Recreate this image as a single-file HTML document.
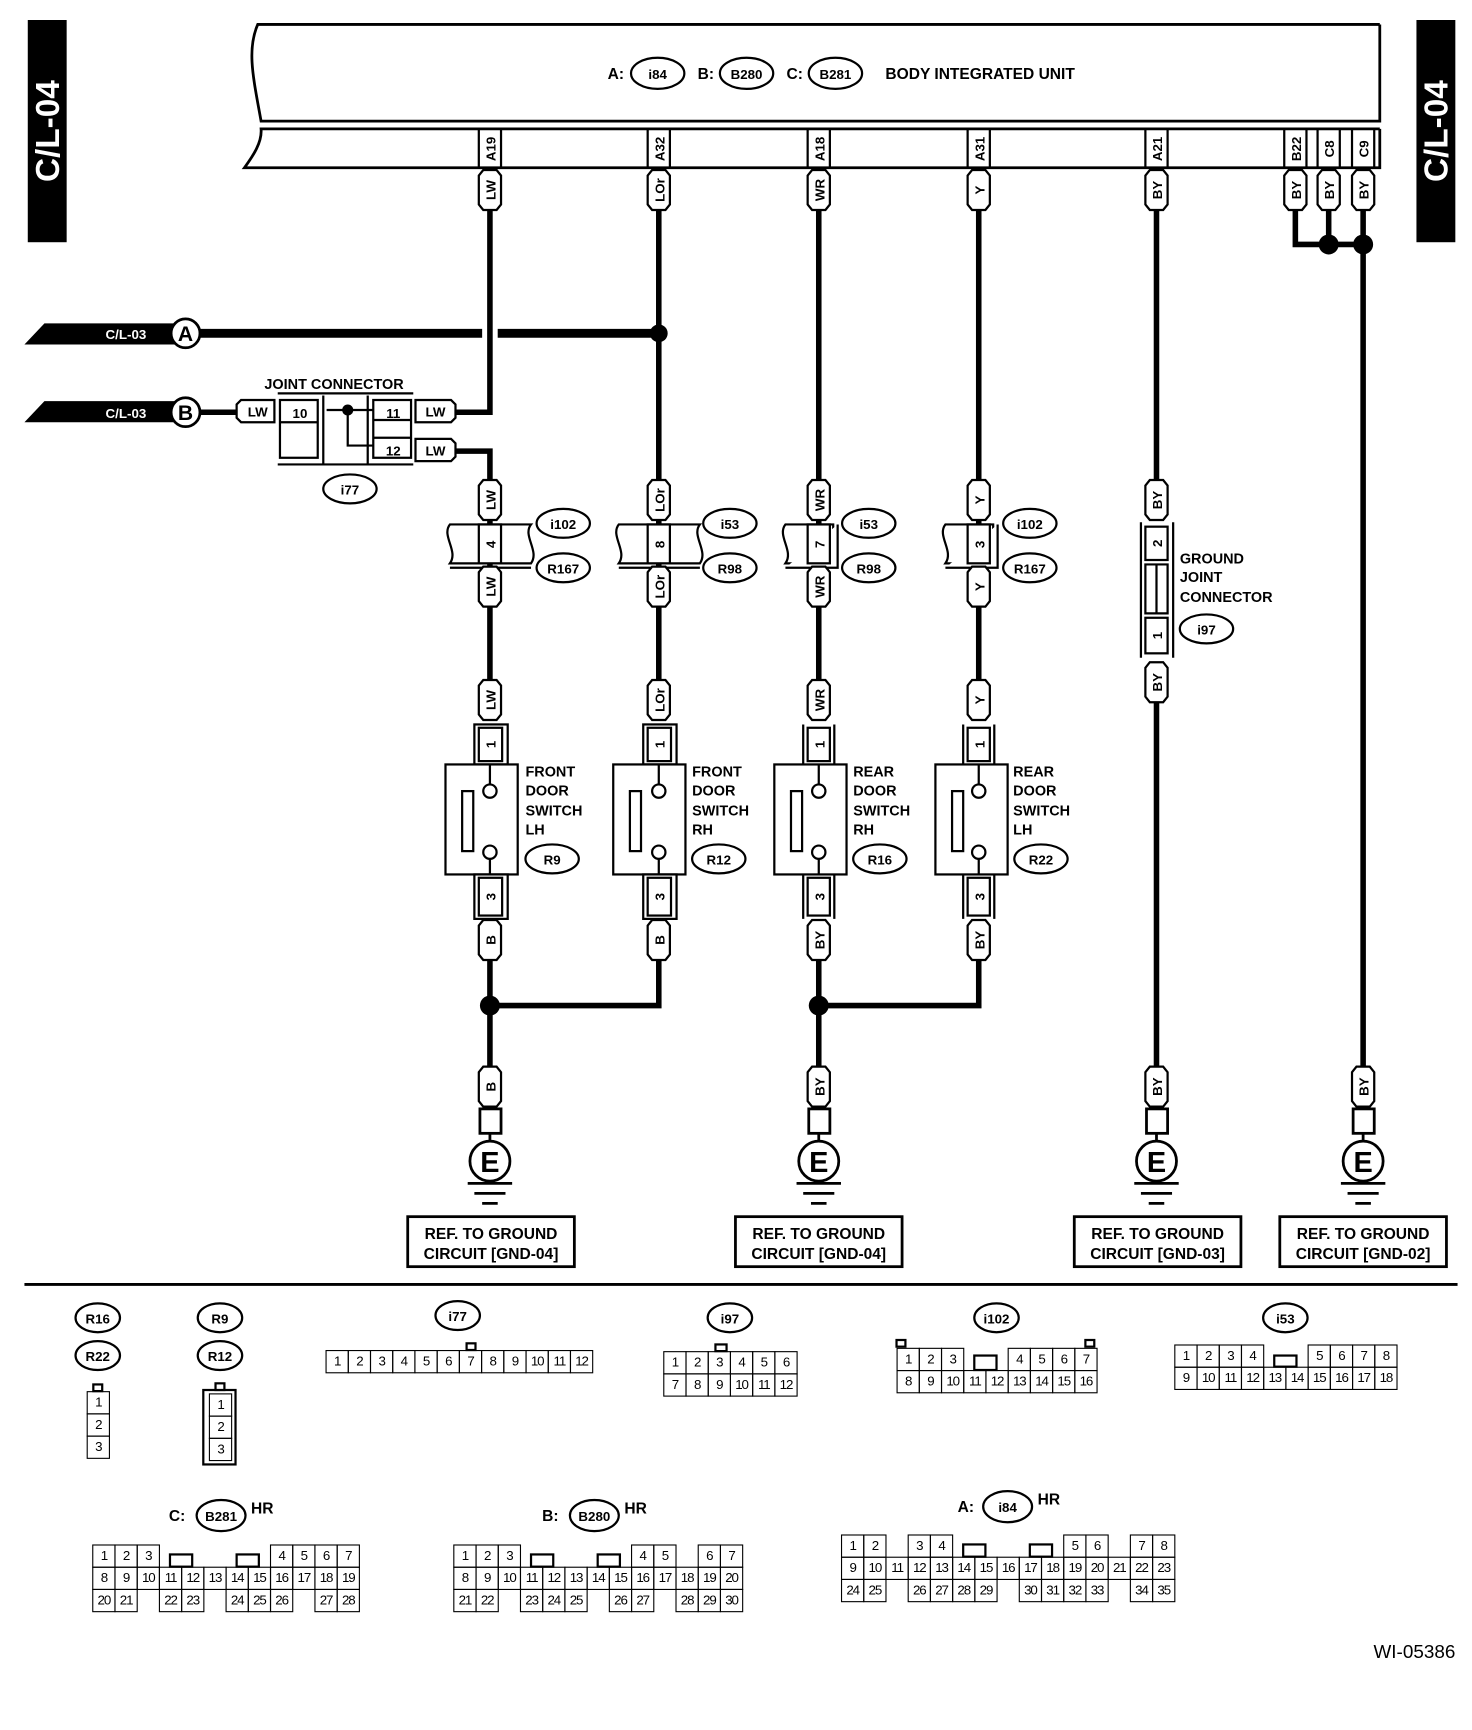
<!DOCTYPE html>
<html><head><meta charset="utf-8"><style>
html,body{margin:0;padding:0;background:#fff;width:1472px;height:1730px;overflow:hidden}
#wrap{position:absolute;left:0;top:0;width:1325px;height:1557px;transform:scale(1.11094,1.11111);transform-origin:0 0}
svg{position:absolute;left:0;top:0}
text{font-family:"Liberation Sans",sans-serif;font-weight:bold;fill:#000}
.t{font-size:12px}
.s{font-size:14px}
.g{position:absolute;font-family:"Liberation Sans Narrow","Liberation Sans",sans-serif;font-size:12px}
.r{display:flex;height:21px}
.r i,.r b{display:block;width:21px;height:21px;box-sizing:border-box;font-style:normal;font-weight:normal;text-align:center;line-height:19px;letter-spacing:-1px;margin-right:-1px}
.r i{border:1.5px solid #000}
.r+.r{margin-top:-1px}
</style></head><body><div id="wrap">
<svg width="1325" height="1557" viewBox="0 0 1325 1557">
<defs>
<path id="tg" d="M-10,5 L-6,0 L6,0 L10,5 L10,31 L6,36 L-6,36 L-10,31Z" fill="#fff" stroke="#000" stroke-width="2"/>
</defs>
<rect x="25" y="18" width="35" height="200" fill="#000"/>
<text transform="translate(53,118) rotate(-90)" text-anchor="middle" style="font-size:30px;fill:#fff">C/L-04</text>
<rect x="1275" y="18" width="35" height="200" fill="#000"/>
<text transform="translate(1303,118) rotate(-90)" text-anchor="middle" style="font-size:30px;fill:#fff">C/L-04</text>
<g fill="none" stroke="#000" stroke-width="2.5">
<path d="M1242,22 H232 C222,45 228,70 235,109 H1242 V22"/>
<path d="M1242,116 H235 C236,128 228,140 220,151 H1242 V116"/>
</g>
<text x="547" y="71" class="s">A:</text>
<ellipse cx="592" cy="66" rx="24" ry="14" fill="#fff" stroke="#000" stroke-width="2"/><text x="592" y="71" class="t" text-anchor="middle">i84</text>
<text x="628" y="71" class="s">B:</text>
<ellipse cx="672" cy="66" rx="24" ry="14" fill="#fff" stroke="#000" stroke-width="2"/><text x="672" y="71" class="t" text-anchor="middle">B280</text>
<text x="708" y="71" class="s">C:</text>
<ellipse cx="752" cy="66" rx="24" ry="14" fill="#fff" stroke="#000" stroke-width="2"/><text x="752" y="71" class="t" text-anchor="middle">B281</text>
<text x="797" y="71" class="s">BODY INTEGRATED UNIT</text>
<g fill="none" stroke="#000" stroke-width="2">
<rect x="431" y="116" width="20" height="35"/><rect x="583" y="116" width="20" height="35"/><rect x="727" y="116" width="20" height="35"/><rect x="871" y="116" width="20" height="35"/><rect x="1031" y="116" width="20" height="35"/><rect x="1156" y="116" width="20" height="35"/><rect x="1186" y="116" width="20" height="35"/><rect x="1217" y="116" width="20" height="35"/>
</g>
<g class="t" text-anchor="middle">
<text transform="translate(446,134) rotate(-90)">A19</text>
<text transform="translate(598,134) rotate(-90)">A32</text>
<text transform="translate(742,134) rotate(-90)">A18</text>
<text transform="translate(886,134) rotate(-90)">A31</text>
<text transform="translate(1046,134) rotate(-90)">A21</text>
<text transform="translate(1171,134) rotate(-90)">B22</text>
<text transform="translate(1201,134) rotate(-90)">C8</text>
<text transform="translate(1232,134) rotate(-90)">C9</text>
</g>
<g fill="none" stroke="#000" stroke-width="5">
<path d="M441,189 V371 H410"/><path d="M410,406 H441 V432"/><path d="M441,468 V510"/><path d="M441,546 V612"/><path d="M441,864 V960"/><path d="M441,905 H593 V864"/>
<path d="M593,189 V432"/><path d="M593,468 V510"/><path d="M593,546 V612"/>
<path d="M737,189 V432"/><path d="M737,468 V510"/><path d="M737,546 V612"/><path d="M737,864 V960"/><path d="M737,905 H881 V864"/>
<path d="M881,189 V432"/><path d="M881,468 V510"/><path d="M881,546 V612"/>
<path d="M1041,189 V432"/><path d="M1041,632 V960"/>
<path d="M1166,189 V220 H1227"/><path d="M1196,189 V220"/><path d="M1227,189 V960"/>
<path d="M180,371 H213"/>
</g>
<g stroke="#000" stroke-width="8"><path d="M180,300 H434"/><path d="M448,300 H593"/></g>
<g fill="#000"><circle cx="593" cy="300" r="8"/><circle cx="441" cy="905" r="9"/><circle cx="737" cy="905" r="9"/><circle cx="1196" cy="220" r="9"/><circle cx="1227" cy="220" r="9"/></g>
<path d="M22,310 L40,291 H160 V310Z" fill="#000"/><text x="95" y="305" class="t" style="fill:#fff">C/L-03</text>
<circle cx="167" cy="300" r="13" fill="#fff" stroke="#000" stroke-width="2.5"/><text x="167" y="307" text-anchor="middle" style="font-size:19px">A</text>
<path d="M22,380 L40,361 H160 V380Z" fill="#000"/><text x="95" y="376" class="t" style="fill:#fff">C/L-03</text>
<circle cx="167" cy="371" r="13" fill="#fff" stroke="#000" stroke-width="2.5"/><text x="167" y="378" text-anchor="middle" style="font-size:19px">B</text>
<text x="238" y="350" style="font-size:13px">JOINT CONNECTOR</text>
<g fill="none" stroke="#000" stroke-width="2">
<path d="M250,354 H372 M250,418 H372 M291,356 V418 M331,356 V418"/>
<rect x="252" y="360" width="34" height="52"/><path d="M252,380 H286"/>
<rect x="336" y="360" width="34" height="52"/><path d="M336,378 H370 M336,394 H370"/>
<path d="M294,369 H336 M313,369 V401 H336"/>
<path d="M213,364 L217,360 H247 V380 H217 L213,376Z" fill="#fff"/>
<path d="M410,364 L406,360 H374 V380 H406 L410,376Z" fill="#fff"/>
<path d="M410,399 L406,395 H374 V415 H406 L410,411Z" fill="#fff"/>
</g>
<circle cx="313" cy="369" r="5" fill="#000"/>
<text x="232" y="375" class="t" text-anchor="middle">LW</text>
<text x="270" y="376" class="t" text-anchor="middle">10</text>
<text x="354" y="376" class="t" text-anchor="middle">11</text>
<text x="354" y="410" class="t" text-anchor="middle">12</text>
<text x="392" y="375" class="t" text-anchor="middle">LW</text>
<text x="392" y="410" class="t" text-anchor="middle">LW</text>
<ellipse cx="315" cy="440" rx="24" ry="13" fill="#fff" stroke="#000" stroke-width="2"/><text x="315" y="445" class="t" text-anchor="middle">i77</text>
<g fill="#fff" stroke="#000" stroke-width="2">
<path d="M405,472 H478 C470,482 486,496 478,507 H405 C413,496 397,482 405,472Z"/><path d="M405,511 H478"/><rect x="431" y="472" width="20" height="35"/>
<path d="M557,472 H630 C622,482 638,496 630,507 H557 C565,496 549,482 557,472Z"/><path d="M557,511 H630"/><rect x="583" y="472" width="20" height="35"/>
<path d="M707,472 H750 V507 H707 C715,496 699,482 707,472Z"/><path d="M707,511 H754 V472"/><rect x="727" y="472" width="20" height="35"/>
<path d="M851,472 H894 V507 H851 C859,496 843,482 851,472Z"/><path d="M851,511 H898 V472"/><rect x="871" y="472" width="20" height="35"/>
</g>
<g class="t" text-anchor="middle">
<text transform="translate(446,490) rotate(-90)">4</text>
<text transform="translate(598,490) rotate(-90)">8</text>
<text transform="translate(742,490) rotate(-90)">7</text>
<text transform="translate(886,490) rotate(-90)">3</text>
</g>
<g fill="#fff" stroke="#000" stroke-width="2">
<ellipse cx="507" cy="471" rx="24" ry="13"/><ellipse cx="507" cy="511" rx="24" ry="13"/>
<ellipse cx="657" cy="471" rx="24" ry="13"/><ellipse cx="657" cy="511" rx="24" ry="13"/>
<ellipse cx="782" cy="471" rx="24" ry="13"/><ellipse cx="782" cy="511" rx="24" ry="13"/>
<ellipse cx="927" cy="471" rx="24" ry="13"/><ellipse cx="927" cy="511" rx="24" ry="13"/>
</g>
<g class="t" text-anchor="middle">
<text x="507" y="476">i102</text><text x="507" y="516">R167</text>
<text x="657" y="476">i53</text><text x="657" y="516">R98</text>
<text x="782" y="476">i53</text><text x="782" y="516">R98</text>
<text x="927" y="476">i102</text><text x="927" y="516">R167</text>
</g>
<g fill="none" stroke="#000" stroke-width="2">
<path d="M1027,470 V592 M1056,470 V592"/>
<rect x="1031" y="474" width="20" height="30" fill="#fff"/>
<path d="M1031,508 H1051 V552 H1031Z M1041,508 V552"/>
<rect x="1031" y="556" width="20" height="32" fill="#fff"/>
</g>
<text transform="translate(1046,489) rotate(-90)" class="t" text-anchor="middle">2</text>
<text transform="translate(1046,572) rotate(-90)" class="t" text-anchor="middle">1</text>
<text x="1062" y="507" style="font-size:13px">GROUND</text>
<text x="1062" y="524" style="font-size:13px">JOINT</text>
<text x="1062" y="542" style="font-size:13px">CONNECTOR</text>
<ellipse cx="1086" cy="566" rx="24" ry="13" fill="#fff" stroke="#000" stroke-width="2"/><text x="1086" y="571" class="t" text-anchor="middle">i97</text>
<g fill="#fff" stroke="#000" stroke-width="2">
<rect x="427" y="652" width="30" height="36"/><rect x="431" y="655" width="21" height="30"/>
<rect x="401" y="688" width="65" height="99"/><rect x="416" y="712" width="10" height="54"/>
<path d="M441,688 V706 M441,773 V787"/><circle cx="441" cy="712" r="6"/><circle cx="441" cy="767" r="6"/>
<rect x="427" y="787" width="30" height="40"/><rect x="431" y="790" width="21" height="34"/>
<rect x="579" y="652" width="30" height="36"/><rect x="583" y="655" width="21" height="30"/>
<rect x="552" y="688" width="65" height="99"/><rect x="567" y="712" width="10" height="54"/>
<path d="M593,688 V706 M593,773 V787"/><circle cx="593" cy="712" r="6"/><circle cx="593" cy="767" r="6"/>
<rect x="579" y="787" width="30" height="40"/><rect x="583" y="790" width="21" height="34"/>
<path d="M723,652 V688 M751,652 V688"/><rect x="727" y="655" width="20" height="30"/>
<rect x="697" y="688" width="65" height="99"/><rect x="712" y="712" width="10" height="54"/>
<path d="M737,688 V706 M737,773 V787"/><circle cx="737" cy="712" r="6"/><circle cx="737" cy="767" r="6"/>
<path d="M723,787 V827 M751,787 V827"/><rect x="727" y="790" width="20" height="34"/>
<path d="M867,652 V688 M895,652 V688"/><rect x="871" y="655" width="20" height="30"/>
<rect x="842" y="688" width="65" height="99"/><rect x="857" y="712" width="10" height="54"/>
<path d="M881,688 V706 M881,773 V787"/><circle cx="881" cy="712" r="6"/><circle cx="881" cy="767" r="6"/>
<path d="M867,787 V827 M895,787 V827"/><rect x="871" y="790" width="20" height="34"/>
</g>
<g class="t" text-anchor="middle">
<text transform="translate(446,670) rotate(-90)">1</text><text transform="translate(446,807) rotate(-90)">3</text>
<text transform="translate(598,670) rotate(-90)">1</text><text transform="translate(598,807) rotate(-90)">3</text>
<text transform="translate(742,670) rotate(-90)">1</text><text transform="translate(742,807) rotate(-90)">3</text>
<text transform="translate(886,670) rotate(-90)">1</text><text transform="translate(886,807) rotate(-90)">3</text>
</g>
<g style="font-size:13px">
<text x="473" y="699">FRONT</text><text x="473" y="716">DOOR</text><text x="473" y="734">SWITCH</text><text x="473" y="751">LH</text>
<text x="623" y="699">FRONT</text><text x="623" y="716">DOOR</text><text x="623" y="734">SWITCH</text><text x="623" y="751">RH</text>
<text x="768" y="699">REAR</text><text x="768" y="716">DOOR</text><text x="768" y="734">SWITCH</text><text x="768" y="751">RH</text>
<text x="912" y="699">REAR</text><text x="912" y="716">DOOR</text><text x="912" y="734">SWITCH</text><text x="912" y="751">LH</text>
</g>
<g fill="#fff" stroke="#000" stroke-width="2">
<ellipse cx="497" cy="773" rx="24" ry="13"/><ellipse cx="647" cy="773" rx="24" ry="13"/><ellipse cx="792" cy="773" rx="24" ry="13"/><ellipse cx="937" cy="773" rx="24" ry="13"/>
</g>
<g class="t" text-anchor="middle"><text x="497" y="778">R9</text><text x="647" y="778">R12</text><text x="792" y="778">R16</text><text x="937" y="778">R22</text></g>
<use href="#tg" x="441" y="153"/><use href="#tg" x="593" y="153"/><use href="#tg" x="737" y="153"/><use href="#tg" x="881" y="153"/><use href="#tg" x="1041" y="153"/><use href="#tg" x="1166" y="153"/><use href="#tg" x="1196" y="153"/><use href="#tg" x="1227" y="153"/>
<use href="#tg" x="441" y="432"/><use href="#tg" x="441" y="510"/><use href="#tg" x="441" y="612"/><use href="#tg" x="441" y="828"/><use href="#tg" x="441" y="960"/>
<use href="#tg" x="593" y="432"/><use href="#tg" x="593" y="510"/><use href="#tg" x="593" y="612"/><use href="#tg" x="593" y="828"/>
<use href="#tg" x="737" y="432"/><use href="#tg" x="737" y="510"/><use href="#tg" x="737" y="612"/><use href="#tg" x="737" y="828"/><use href="#tg" x="737" y="960"/>
<use href="#tg" x="881" y="432"/><use href="#tg" x="881" y="510"/><use href="#tg" x="881" y="612"/><use href="#tg" x="881" y="828"/>
<use href="#tg" x="1041" y="432"/><use href="#tg" x="1041" y="596"/><use href="#tg" x="1041" y="960"/>
<use href="#tg" x="1227" y="960"/>
<g class="t" text-anchor="middle">
<text transform="translate(446,171) rotate(-90)">LW</text><text transform="translate(598,171) rotate(-90)">LOr</text><text transform="translate(742,171) rotate(-90)">WR</text><text transform="translate(886,171) rotate(-90)">Y</text><text transform="translate(1046,171) rotate(-90)">BY</text><text transform="translate(1171,171) rotate(-90)">BY</text><text transform="translate(1201,171) rotate(-90)">BY</text><text transform="translate(1232,171) rotate(-90)">BY</text>
<text transform="translate(446,450) rotate(-90)">LW</text><text transform="translate(446,528) rotate(-90)">LW</text><text transform="translate(446,630) rotate(-90)">LW</text><text transform="translate(446,846) rotate(-90)">B</text><text transform="translate(446,978) rotate(-90)">B</text>
<text transform="translate(598,450) rotate(-90)">LOr</text><text transform="translate(598,528) rotate(-90)">LOr</text><text transform="translate(598,630) rotate(-90)">LOr</text><text transform="translate(598,846) rotate(-90)">B</text>
<text transform="translate(742,450) rotate(-90)">WR</text><text transform="translate(742,528) rotate(-90)">WR</text><text transform="translate(742,630) rotate(-90)">WR</text><text transform="translate(742,846) rotate(-90)">BY</text><text transform="translate(742,978) rotate(-90)">BY</text>
<text transform="translate(886,450) rotate(-90)">Y</text><text transform="translate(886,528) rotate(-90)">Y</text><text transform="translate(886,630) rotate(-90)">Y</text><text transform="translate(886,846) rotate(-90)">BY</text>
<text transform="translate(1046,450) rotate(-90)">BY</text><text transform="translate(1046,614) rotate(-90)">BY</text><text transform="translate(1046,978) rotate(-90)">BY</text>
<text transform="translate(1232,978) rotate(-90)">BY</text>
</g>
<g fill="#fff" stroke="#000" stroke-width="2.5">
<rect x="432" y="998" width="19" height="22"/><circle cx="441" cy="1045" r="18"/>
<rect x="728" y="998" width="19" height="22"/><circle cx="737" cy="1045" r="18"/>
<rect x="1032" y="998" width="19" height="22"/><circle cx="1041" cy="1045" r="18"/>
<rect x="1218" y="998" width="19" height="22"/><circle cx="1227" cy="1045" r="18"/>
<path d="M441,1020 V1027 M737,1020 V1027 M1041,1020 V1027 M1227,1020 V1027"/>
<path d="M421,1065 H461 M427,1074 H455 M434,1083 H448"/>
<path d="M717,1065 H757 M723,1074 H751 M730,1083 H744"/>
<path d="M1021,1065 H1061 M1027,1074 H1055 M1034,1083 H1048"/>
<path d="M1207,1065 H1247 M1213,1074 H1241 M1220,1083 H1234"/>
</g>
<g text-anchor="middle" style="font-size:26px">
<text x="441" y="1055">E</text><text x="737" y="1055">E</text><text x="1041" y="1055">E</text><text x="1227" y="1055">E</text>
</g>
<g fill="none" stroke="#000" stroke-width="2.5">
<rect x="367" y="1095" width="150" height="45"/><rect x="662" y="1095" width="150" height="45"/><rect x="967" y="1095" width="150" height="45"/><rect x="1152" y="1095" width="150" height="45"/>
</g>
<g text-anchor="middle" style="font-size:14px">
<text x="442" y="1115">REF. TO GROUND</text><text x="442" y="1133">CIRCUIT [GND-04]</text>
<text x="737" y="1115">REF. TO GROUND</text><text x="737" y="1133">CIRCUIT [GND-04]</text>
<text x="1042" y="1115">REF. TO GROUND</text><text x="1042" y="1133">CIRCUIT [GND-03]</text>
<text x="1227" y="1115">REF. TO GROUND</text><text x="1227" y="1133">CIRCUIT [GND-02]</text>
</g>
<path d="M22,1156 H1312" stroke="#000" stroke-width="2.5"/>
<g fill="#fff" stroke="#000" stroke-width="2">
<ellipse cx="88" cy="1186" rx="20" ry="13"/><ellipse cx="88" cy="1220" rx="20" ry="13"/>
<ellipse cx="198" cy="1186" rx="20" ry="13"/><ellipse cx="198" cy="1220" rx="20" ry="13"/>
<ellipse cx="412" cy="1184" rx="20" ry="13"/><ellipse cx="657" cy="1186" rx="20" ry="13"/>
<ellipse cx="897" cy="1186" rx="20" ry="13"/><ellipse cx="1157" cy="1186" rx="20" ry="13"/>
<ellipse cx="199" cy="1364" rx="22" ry="14"/><ellipse cx="535" cy="1364" rx="22" ry="14"/><ellipse cx="907" cy="1356" rx="22" ry="14"/>
<rect x="84" y="1246" width="8" height="6"/><rect x="183" y="1251" width="29" height="67"/><rect x="194" y="1245" width="8" height="6"/>
<rect x="420" y="1209" width="8" height="6"/><rect x="644" y="1210" width="10" height="6"/>
<rect x="807" y="1206" width="8" height="6"/><rect x="977" y="1206" width="8" height="6"/>
<rect x="877" y="1220" width="20" height="13"/><rect x="1147" y="1220" width="20" height="10"/>
<rect x="153" y="1399" width="20" height="11"/><rect x="213" y="1399" width="20" height="11"/>
<rect x="478" y="1399" width="20" height="11"/><rect x="538" y="1399" width="20" height="11"/>
<rect x="867" y="1390" width="20" height="11"/><rect x="927" y="1390" width="20" height="11"/>
</g>
<g class="t" text-anchor="middle">
<text x="88" y="1191">R16</text><text x="88" y="1225">R22</text><text x="198" y="1191">R9</text><text x="198" y="1225">R12</text>
<text x="412" y="1189">i77</text><text x="657" y="1191">i97</text><text x="897" y="1191">i102</text><text x="1157" y="1191">i53</text>
<text x="199" y="1369">B281</text><text x="535" y="1369">B280</text><text x="907" y="1361">i84</text>
</g>
<g style="font-size:14px">
<text x="152" y="1369">C:</text><text x="226" y="1362">HR</text>
<text x="488" y="1369">B:</text><text x="562" y="1362">HR</text>
<text x="862" y="1361">A:</text><text x="934" y="1354">HR</text>
</g>
<text x="1310" y="1492" text-anchor="end" style="font-size:17px;font-weight:normal">WI-05386</text>
</svg>
<div class="g" style="left:78px;top:1252px"><div class="r"><i>1</i></div><div class="r"><i>2</i></div><div class="r"><i>3</i></div></div>
<div class="g" style="left:188px;top:1254px"><div class="r"><i>1</i></div><div class="r"><i>2</i></div><div class="r"><i>3</i></div></div>
<div class="g" style="left:293px;top:1215px"><div class="r"><i>1</i><i>2</i><i>3</i><i>4</i><i>5</i><i>6</i><i>7</i><i>8</i><i>9</i><i>10</i><i>11</i><i>12</i></div></div>
<div class="g" style="left:597px;top:1216px"><div class="r"><i>1</i><i>2</i><i>3</i><i>4</i><i>5</i><i>6</i></div><div class="r"><i>7</i><i>8</i><i>9</i><i>10</i><i>11</i><i>12</i></div></div>
<div class="g" style="left:807px;top:1213px"><div class="r"><i>1</i><i>2</i><i>3</i><b></b><b></b><i>4</i><i>5</i><i>6</i><i>7</i></div><div class="r"><i>8</i><i>9</i><i>10</i><i>11</i><i>12</i><i>13</i><i>14</i><i>15</i><i>16</i></div></div>
<div class="g" style="left:1057px;top:1210px"><div class="r"><i>1</i><i>2</i><i>3</i><i>4</i><b></b><b></b><i>5</i><i>6</i><i>7</i><i>8</i></div><div class="r"><i>9</i><i>10</i><i>11</i><i>12</i><i>13</i><i>14</i><i>15</i><i>16</i><i>17</i><i>18</i></div></div>
<div class="g" style="left:83px;top:1390px"><div class="r"><i>1</i><i>2</i><i>3</i><b></b><b></b><b></b><b></b><b></b><i>4</i><i>5</i><i>6</i><i>7</i></div><div class="r"><i>8</i><i>9</i><i>10</i><i>11</i><i>12</i><i>13</i><i>14</i><i>15</i><i>16</i><i>17</i><i>18</i><i>19</i></div><div class="r"><i>20</i><i>21</i><b></b><i>22</i><i>23</i><b></b><i>24</i><i>25</i><i>26</i><b></b><i>27</i><i>28</i></div></div>
<div class="g" style="left:408px;top:1390px"><div class="r"><i>1</i><i>2</i><i>3</i><b></b><b></b><b></b><b></b><b></b><i>4</i><i>5</i><b></b><i>6</i><i>7</i></div><div class="r"><i>8</i><i>9</i><i>10</i><i>11</i><i>12</i><i>13</i><i>14</i><i>15</i><i>16</i><i>17</i><i>18</i><i>19</i><i>20</i></div><div class="r"><i>21</i><i>22</i><b></b><i>23</i><i>24</i><i>25</i><b></b><i>26</i><i>27</i><b></b><i>28</i><i>29</i><i>30</i></div></div>
<div class="g" style="left:757px;top:1381px"><div class="r"><i>1</i><i>2</i><b></b><i>3</i><i>4</i><b></b><b></b><b></b><b></b><b></b><i>5</i><i>6</i><b></b><i>7</i><i>8</i></div><div class="r"><i>9</i><i>10</i><i>11</i><i>12</i><i>13</i><i>14</i><i>15</i><i>16</i><i>17</i><i>18</i><i>19</i><i>20</i><i>21</i><i>22</i><i>23</i></div><div class="r"><i>24</i><i>25</i><b></b><i>26</i><i>27</i><i>28</i><i>29</i><b></b><i>30</i><i>31</i><i>32</i><i>33</i><b></b><i>34</i><i>35</i></div></div>
</div></body></html>
